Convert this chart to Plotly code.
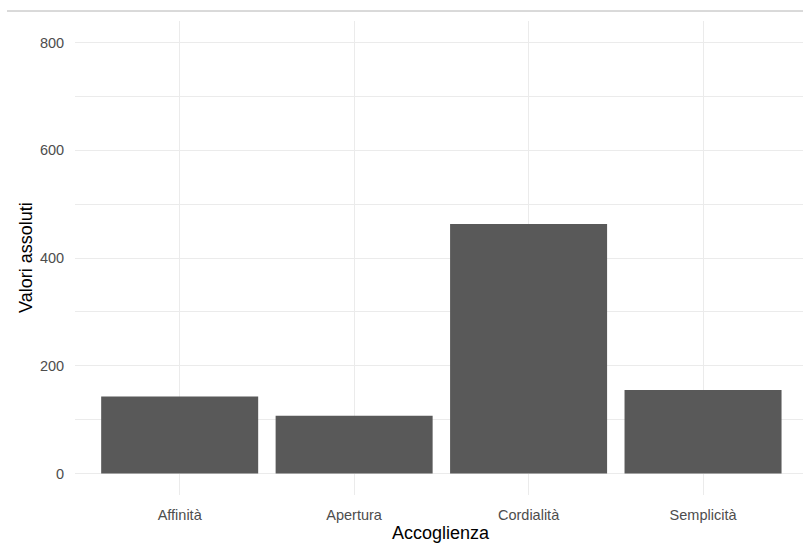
import plotly.graph_objects as go

categories = ["Affinità", "Apertura", "Cordialità", "Semplicità"]
values = [143, 107, 463, 155]
y_ticks = [0, 200, 400, 600, 800]
x_title = "Accoglienza"
y_title = "Valori assoluti"

W, H = 803, 543
L, R, T, B = 75, 0, 21, 48

fig = go.Figure()
fig.add_trace(go.Bar(
    x=categories, y=values, width=0.9,
    marker=dict(color="#595959", line=dict(width=0)),
    hoverinfo="x+y",
))

grid = "#EBEBEB"
fig.update_layout(
    width=W, height=H,
    margin=dict(l=L, r=R, t=T, b=B, pad=0),
    paper_bgcolor="white", plot_bgcolor="white",
    font=dict(family="Liberation Sans, Arial, sans-serif", size=15, color="#4D4D4D"),
    showlegend=False,
    bargap=0.1,
    xaxis=dict(
        range=[-0.6, 3.573], showgrid=True, gridcolor=grid, gridwidth=1.2,
        zeroline=False, showline=False,
        ticks="outside", ticklen=7, tickcolor="rgba(0,0,0,0)",
        tickfont=dict(size=14.5, color="#4D4D4D"),
        fixedrange=True,
    ),
    yaxis=dict(
        range=[-40, 840], tickvals=y_ticks, ticktext=[str(v) for v in y_ticks],
        showgrid=True, gridcolor=grid, gridwidth=1.2,
        minor=dict(tickvals=[100, 300, 500, 700], showgrid=True, gridcolor=grid, gridwidth=0.7, ticks=""),
        zeroline=False, showline=False,
        ticks="outside", ticklen=7, tickcolor="rgba(0,0,0,0)",
        tickfont=dict(size=14.5, color="#4D4D4D"),
        fixedrange=True,
    ),
)

# axis titles
fig.add_annotation(
    text=x_title, xref="x", x=1.5, yref="paper", y=-(533 - 495) / (H - T - B),
    yanchor="middle", xanchor="center", showarrow=False,
    font=dict(size=18, color="black"),
)
fig.add_annotation(
    text=y_title, xref="paper", x=-(L - 26) / (W - L - R), yref="paper", y=0.5,
    xanchor="center", yanchor="middle", textangle=-90, showarrow=False,
    font=dict(size=18, color="black"),
)

# thin grey rule at the top of the image
ph = H - T - B
pw = W - L - R
fig.add_shape(
    type="line", xref="paper", yref="paper",
    x0=-(L - 7) / pw, x1=1.01, y0=1 + (T - 11) / ph, y1=1 + (T - 11) / ph,
    line=dict(color="#B4B4B4", width=1),
)

fig.write_html(
    "out.html",
    config={"displayModeBar": False},
    post_script="document.body.style.margin='0';document.body.style.overflow='hidden';",
)
